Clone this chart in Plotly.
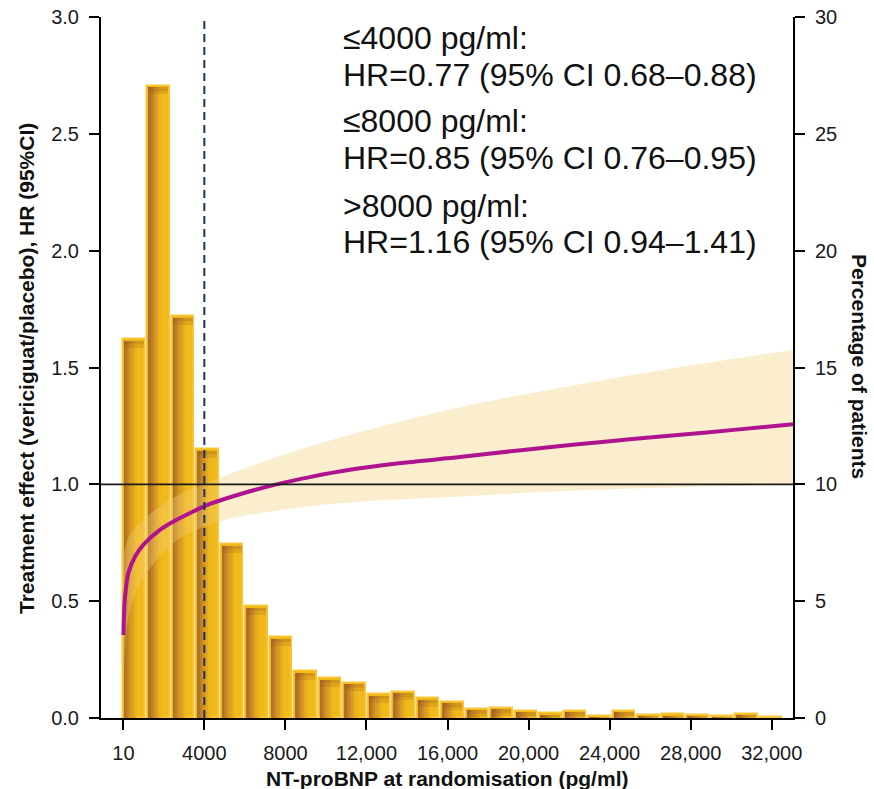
import plotly.graph_objects as go

# ---------------- data ----------------
bin_first_center = 528
bin_pitch = 1209
pct_patients = [16.2, 27.05, 17.2, 11.5, 7.44, 4.78, 3.45, 2.0, 1.71, 1.5, 1.01, 1.12,
                0.84, 0.70, 0.40, 0.43, 0.31, 0.20, 0.30, 0.10, 0.30, 0.14, 0.16, 0.14,
                0.09, 0.18, 0.05]
bin_centers = [bin_first_center + bin_pitch * i for i in range(len(pct_patients))]

hr_x = [10, 40, 85, 250, 575, 985, 1810, 2630, 3450, 4275, 5920, 7565, 9210, 11180,
        13600, 16600, 19500, 22300, 25000, 27500, 30000, 33050]
hr_y = [0.355, 0.45, 0.52, 0.62, 0.69, 0.741, 0.805, 0.848, 0.884, 0.916, 0.962, 1.0,
        1.031, 1.062, 1.09, 1.117, 1.145, 1.17, 1.193, 1.212, 1.232, 1.257]

ci_x = [10, 300, 1000, 2630, 4730, 7000, 10620, 16600, 22000, 27500, 33050]
ci_upper = [0.70, 0.78, 0.85, 0.95, 1.027, 1.10, 1.198, 1.33, 1.42, 1.502, 1.575]
ci_lower = [0.15, 0.45, 0.60, 0.76, 0.84, 0.88, 0.919, 0.948, 0.973, 0.988, 0.998]

x_tickvals = [10, 4000, 8000, 12000, 16000, 20000, 24000, 28000, 32000]
x_ticktext = ["10", "4000", "8000", "12,000", "16,000", "20,000", "24,000", "28,000", "32,000"]
hr_ticks = [0.0, 0.5, 1.0, 1.5, 2.0, 2.5, 3.0]
pct_ticks = [0, 5, 10, 15, 20, 25, 30]

cutoff = 4000
ann_lines = ["≤4000 pg/ml:", "HR=0.77 (95% CI 0.68–0.88)",
             "≤8000 pg/ml:", "HR=0.85 (95% CI 0.76–0.95)",
             ">8000 pg/ml:", "HR=1.16 (95% CI 0.94–1.41)"]
ann_ypix = [38, 74.7, 120.8, 158, 205.8, 242.5]

# ---------------- layout constants ----------------
W, H = 874, 789
plot_l, plot_r, plot_t, plot_b = 101, 793, 17, 718     # px of plot area
ml, mt = plot_l, plot_t
mr, mb = W - plot_r, H - plot_b
pw, ph = plot_r - plot_l, plot_b - plot_t
xr = [-1100, 33050]
ux = (xr[1] - xr[0]) / pw          # data units per px (x)
up = 30 / ph                        # percent per px (y)

fig = go.Figure()

bar_w = 22.6 * ux
border_px = 1.5
inset = border_px * ux
left_off = -bar_w / 2

# base bars (gold + light border)
fig.add_trace(go.Bar(x=bin_centers, y=pct_patients, width=bar_w, offset=left_off,
                     marker=dict(color="#F2B91B", line=dict(color="#F8C73C", width=border_px)),
                     yaxis="y", hoverinfo="skip", showlegend=False))

# horizontal gradient layers (lighter -> darker, narrower, left aligned)
inner_w = bar_w - 2 * inset
layers = [(0.66, "#EDB41D"), (0.54, "#E4A81F"), (0.43, "#DA9B22"),
          (0.32, "#CD8D25"), (0.21, "#BF7E28"), (0.10, "#B0702A")]
inner_top = [max(v - border_px * up, 0) for v in pct_patients]
for frac, col in layers:
    fig.add_trace(go.Bar(x=bin_centers, y=inner_top, width=inner_w * frac,
                         offset=left_off + inset,
                         marker=dict(color=col, line=dict(width=0)),
                         yaxis="y", hoverinfo="skip", showlegend=False))

# top shading strips
for hpx in (7, 3.5):
    base = [max(t - hpx * up, 0) for t in inner_top]
    hgt = [t - b for t, b in zip(inner_top, base)]
    fig.add_trace(go.Bar(x=bin_centers, y=hgt, base=base, width=inner_w,
                         offset=left_off + inset,
                         marker=dict(color="rgba(130,70,25,0.16)", line=dict(width=0)),
                         yaxis="y", hoverinfo="skip", showlegend=False))

# CI band
fig.add_trace(go.Scatter(x=ci_x, y=ci_lower, mode="lines", line=dict(width=0, shape="spline"),
                         yaxis="y2", hoverinfo="skip", showlegend=False))
fig.add_trace(go.Scatter(x=ci_x, y=ci_upper, mode="lines", line=dict(width=0, shape="spline"),
                         fill="tonexty", fillcolor="rgba(243,208,120,0.36)",
                         yaxis="y2", hoverinfo="skip", showlegend=False))

# HR curve
fig.add_trace(go.Scatter(x=hr_x, y=hr_y, mode="lines",
                         line=dict(color="#B0138F", width=4, shape="spline", smoothing=0.8),
                         yaxis="y2", hoverinfo="skip", showlegend=False))

# reference lines
fig.add_shape(type="line", xref="paper", x0=0, x1=1, yref="y2", y0=1, y1=1,
              line=dict(color="#1a1a1a", width=1.6), layer="above")
fig.add_shape(type="line", xref="x", x0=cutoff, x1=cutoff, yref="y2", y0=0, y1=3,
              line=dict(color="#1C3557", width=2, dash="8px,5px"), layer="above")

tickfont = dict(family="Liberation Sans, Arial, sans-serif", size=20, color="#1a1a1a")
axcommon = dict(showline=True, linecolor="black", linewidth=2, ticks="outside",
                ticklen=10, tickwidth=2, tickcolor="black", showgrid=False,
                zeroline=False, tickfont=tickfont, ticklabelstandoff=6,
                ticklabeloverflow="allow", automargin=False)

fig.update_layout(
    width=W, height=H, margin=dict(l=ml, r=mr, t=mt, b=mb, pad=0, autoexpand=False),
    paper_bgcolor="white", plot_bgcolor="white", barmode="overlay", bargap=0,
    xaxis=dict(range=xr, tickvals=x_tickvals, ticktext=x_ticktext, **axcommon),
    yaxis=dict(range=[0, 30], tickvals=pct_ticks, side="right", **axcommon),
    yaxis2=dict(range=[0, 3], tickvals=hr_ticks, tickformat=".1f", side="left",
                overlaying="y", **axcommon),
    showlegend=False,
)

def py(ypix):
    return (plot_b - ypix) / ph

def px(xpix):
    return (xpix - plot_l) / pw

annfont = dict(family="Liberation Sans, Arial, sans-serif", size=32, color="#111111")
for txt, yp in zip(ann_lines, ann_ypix):
    fig.add_annotation(text=txt, xref="paper", yref="paper", x=px(341), y=py(yp),
                       xanchor="left", yanchor="middle", showarrow=False, font=annfont)

titlefont = dict(family="Liberation Sans, Arial, sans-serif", size=21, color="#111111")
fig.add_annotation(text="<b>NT-proBNP at randomisation (pg/ml)</b>", xref="paper", yref="paper",
                   x=0.5, y=py(778), xanchor="center", yanchor="middle", showarrow=False,
                   font=titlefont)
fig.add_annotation(text="<b>Treatment effect (vericiguat/placebo), HR (95%CI)</b>",
                   xref="paper", yref="paper", x=px(26), y=py(369), textangle=-90,
                   xanchor="center", yanchor="middle", showarrow=False, font=titlefont)
fig.add_annotation(text="<b>Percentage of patients</b>", xref="paper", yref="paper",
                   x=px(860), y=py(366), textangle=90, xanchor="center", yanchor="middle",
                   showarrow=False, font=titlefont)

fig.write_html("out.html", config={"displayModeBar": False},
               post_script="document.body.style.margin='0px';")
